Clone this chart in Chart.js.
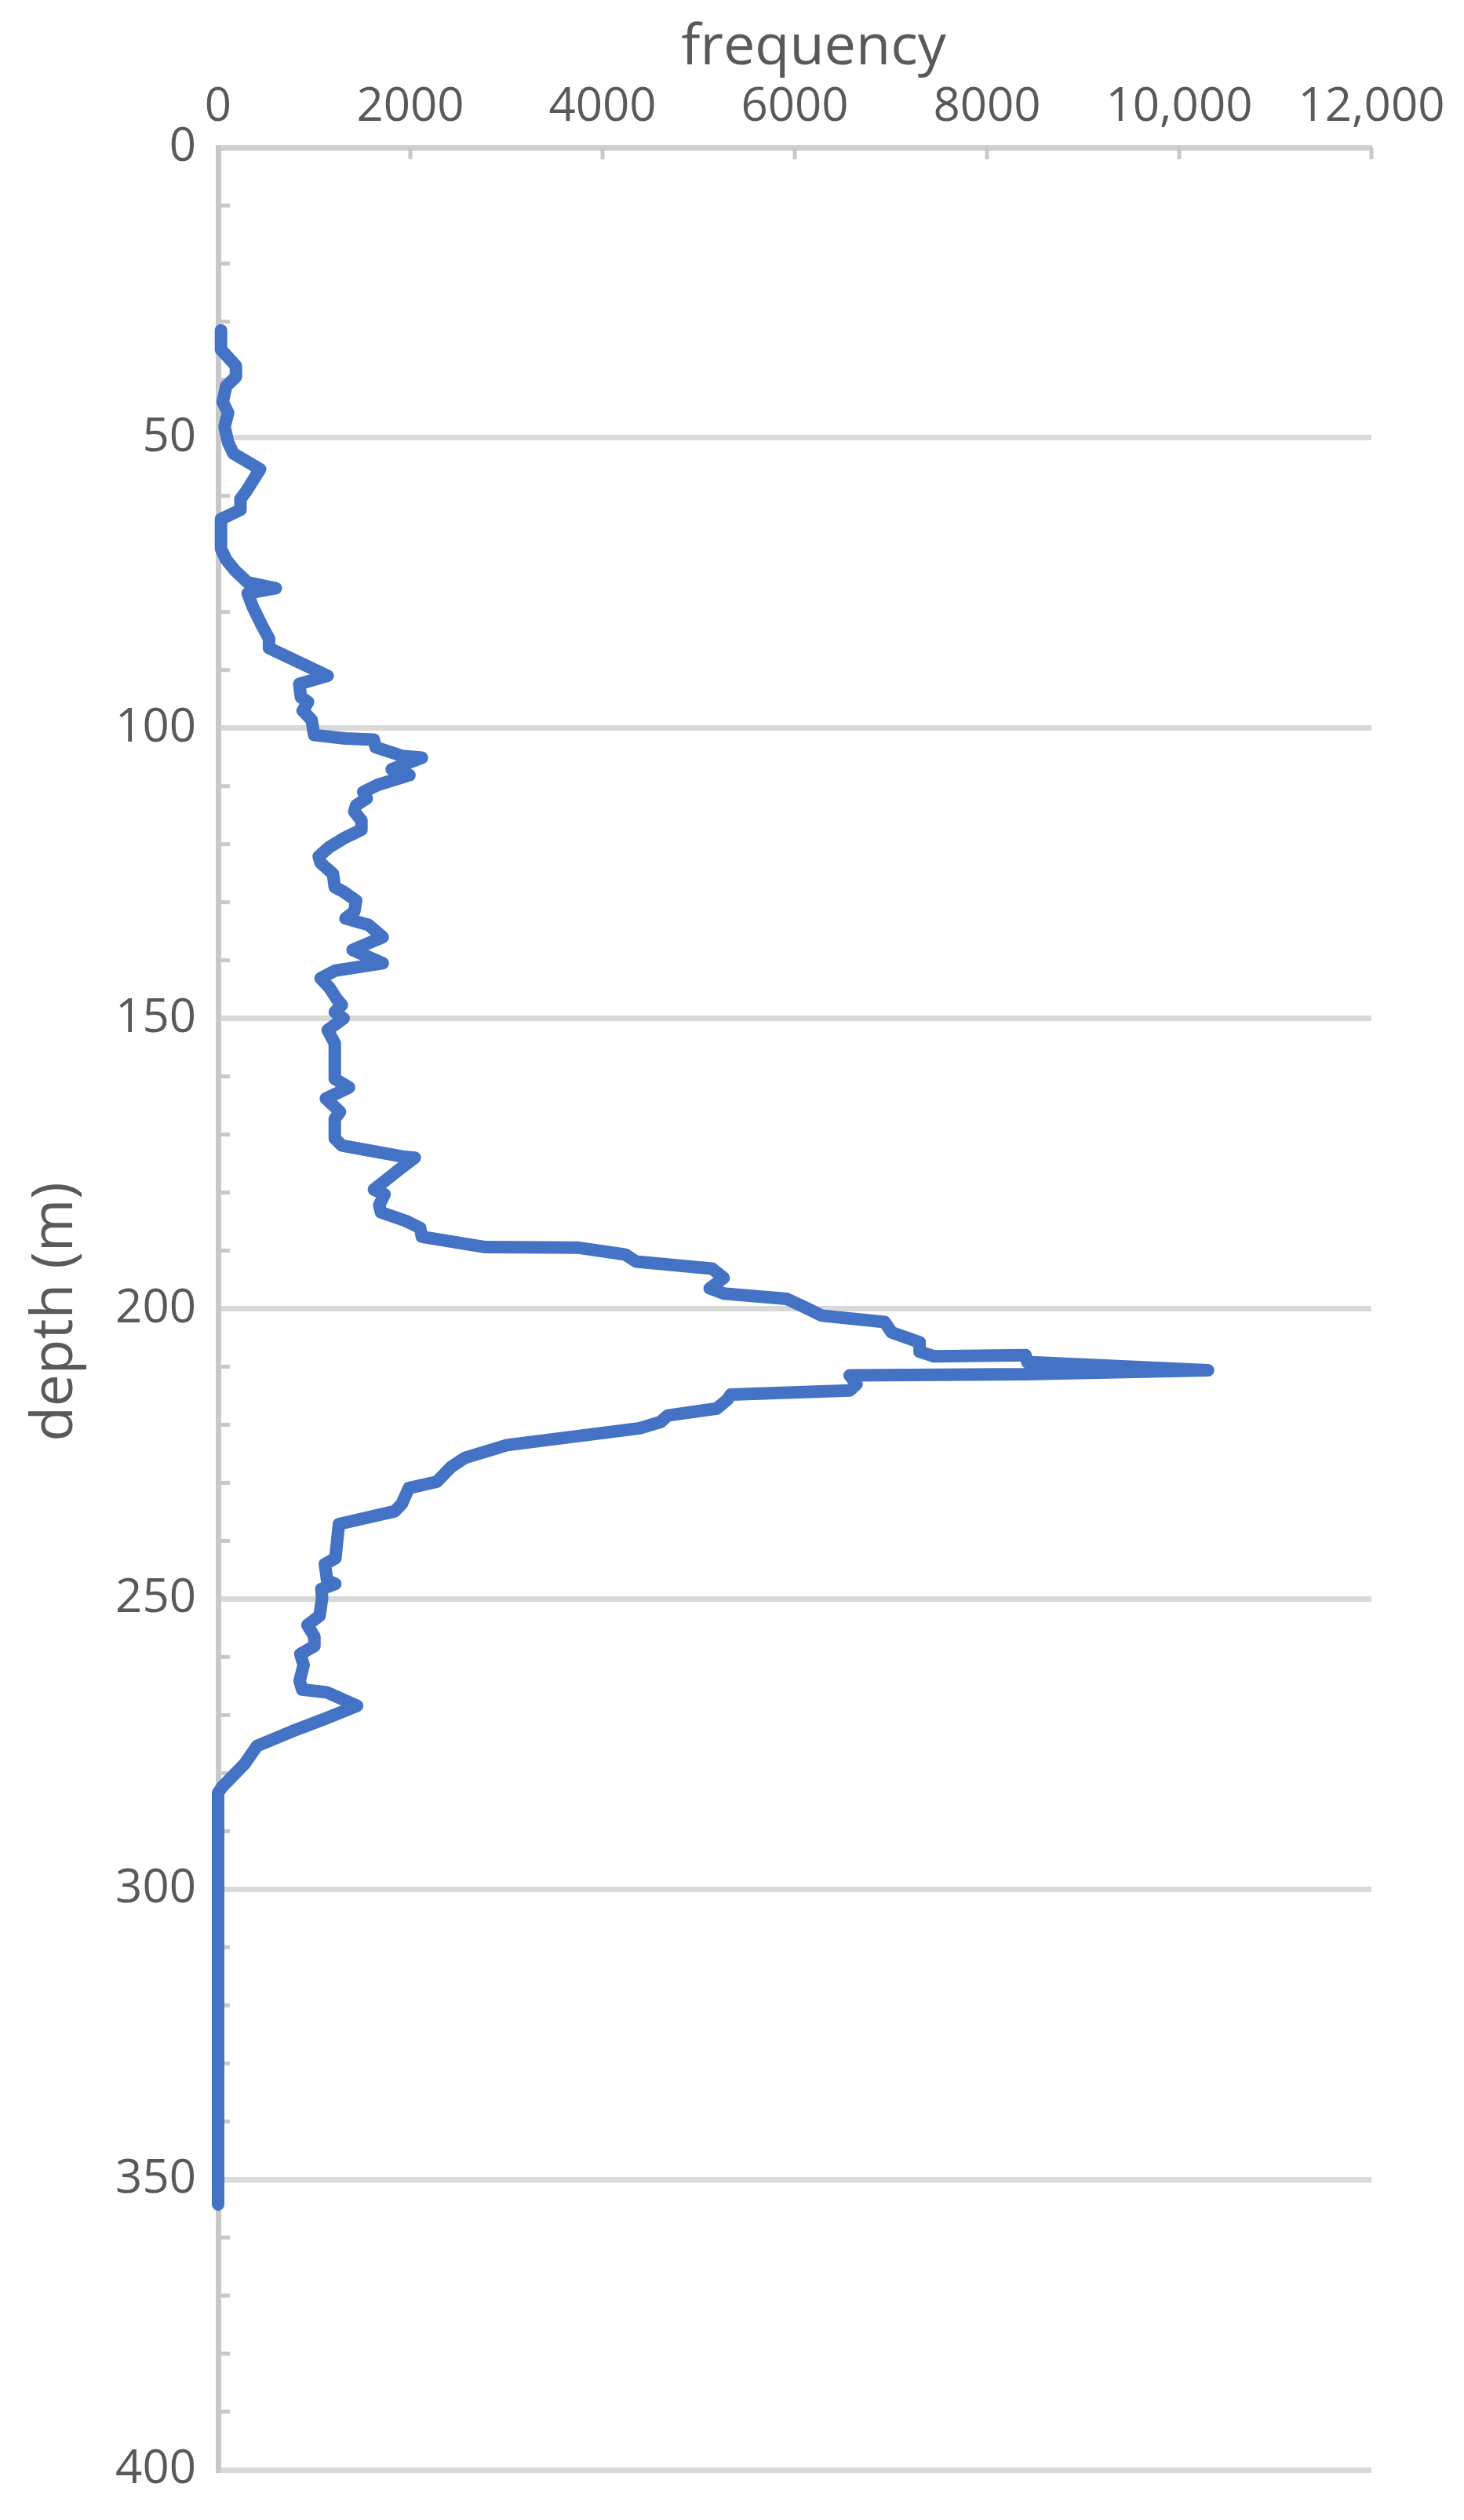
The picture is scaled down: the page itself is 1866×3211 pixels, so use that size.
<!DOCTYPE html>
<html><head><meta charset="utf-8">
<script src="https://cdn.jsdelivr.net/npm/chart.js@4/dist/chart.umd.min.js"></script>
<style>html,body{margin:0;padding:0;background:#fff;}#wrap{width:1866px;height:3211px;}</style>
</head><body><div id="wrap"><canvas id="c" width="1866" height="3211"></canvas></div>
<script>
// depth (m) of each sample, top to bottom
const depthM = [
  31.5, 34.8, 37.6, 39.5, 41.1, 43.8, 45.7, 48.1, 50.8, 52.7,
  55.4, 59.3, 60.5, 62.4, 64.0, 69.1, 71.0, 72.9, 74.9, 75.9,
  76.8, 79.2, 82.3, 84.6, 86.2, 91.0, 92.4, 94.7, 95.5, 97.0,
  98.6, 100.5, 101.2, 101.8, 102.0, 103.3, 104.8, 105.1, 107.1, 108.1,
  109.8, 111.0, 112.1, 113.3, 114.4, 115.9, 117.5, 119.0, 120.5, 122.1,
  123.2, 125.1, 127.4, 128.2, 129.7, 131.6, 132.8, 133.9, 136.0, 138.2,
  140.5, 141.8, 143.1, 144.7, 146.6, 147.7, 148.9, 150.0, 152.0, 154.3,
  160.4, 161.9, 163.8, 166.1, 167.3, 170.7, 171.9, 173.8, 174.0, 176.1,
  179.5, 180.3, 182.2, 183.4, 184.9, 186.1, 187.6, 189.4, 189.5, 190.7,
  191.9, 193.1, 194.7, 196.5, 197.4, 198.3, 200.0, 201.2, 202.3, 204.1,
  205.8, 207.4, 208.2, 208.0, 209.2, 210.6, 211.3, 211.5, 213.0, 214.1,
  214.8, 215.7, 217.2, 218.4, 219.5, 220.6, 223.5, 225.7, 227.3, 229.8,
  230.9, 233.6, 234.9, 237.1, 243.0, 244.0, 246.8, 247.4, 248.3, 249.8,
  252.9, 254.5, 256.5, 258.1, 259.5, 261.4, 264.1, 265.6, 266.1, 268.4,
  270.5, 272.8, 275.3, 278.4, 282.4, 283.4, 354.3
];
// frequency at each depth
const frequency = [
  30, 30, 185, 185, 85, 48, 104, 67, 104, 159,
  437, 289, 233, 233, 30, 30, 85, 178, 307, 600,
  307, 363, 455, 530, 530, 1140, 844, 862, 936, 880,
  973, 992, 1000, 1325, 1620, 1639, 1917, 2120, 1806, 1991,
  1658, 1510, 1547, 1436, 1417, 1491, 1491, 1306, 1158, 1047,
  1066, 1195, 1214, 1306, 1436, 1417, 1325, 1565, 1713, 1399,
  1713, 1214, 1066, 1158, 1232, 1288, 1214, 1306, 1140, 1214,
  1214, 1362, 1121, 1269, 1214, 1214, 1288, 1917, 2046, 1880,
  1621, 1732, 1676, 1695, 1954, 2102, 2120, 2780, 3750, 4240,
  4350, 5140, 5261, 5115, 5261, 5916, 6134, 6280, 6935, 7008,
  7299, 7299, 7445, 8400, 8420, 10300, 8400, 6571, 6644, 6571,
  5334, 5297, 5188, 4678, 4606, 4387, 3004, 2567, 2422, 2276,
  1985, 1912, 1839, 1257, 1220, 1111, 1134, 1220, 1075, 1082,
  1056, 929, 1002, 1002, 856, 890, 848, 874, 1134, 1446,
  1134, 770, 406, 276, 42, 0, 0
];
const xTickValues = [0, 2000, 4000, 6000, 8000, 10000, 12000];
const xTickLabels = ['0', '2000', '4000', '6000', '8000', '10,000', '12,000'];
const yTickValues = [0, 50, 100, 150, 200, 250, 300, 350, 400];
const yMinorStep = 10;
const xTitle = 'frequency';
const yTitle = 'depth (m)';

const points = depthM.map((d, i) => ({x: frequency[i], y: d}));
const FONT = "'Open Sans', sans-serif";

const tickMarks = {
  id: 'tickMarks',
  beforeDatasetsDraw(chart) {
    const {ctx, scales: {x, y}} = chart;
    ctx.save();
    ctx.strokeStyle = '#c8c8c8';
    ctx.lineWidth = 5;
    const x0 = x.getPixelForValue(0);
    for (let v = yMinorStep; v < 400; v += yMinorStep) {
      if (v % 50 === 0) continue;
      const py = y.getPixelForValue(v);
      ctx.beginPath(); ctx.moveTo(x0, py); ctx.lineTo(x0 + 15, py); ctx.stroke();
    }
    const y0 = y.getPixelForValue(0);
    xTickValues.forEach(v => {
      if (v === 0) return;
      const px = x.getPixelForValue(v);
      ctx.beginPath(); ctx.moveTo(px, y0); ctx.lineTo(px, y0 + 15); ctx.stroke();
    });
    ctx.restore();
  },
  afterDraw(chart) {
    const {ctx, chartArea} = chart;
    ctx.save();
    ctx.fillStyle = '#595959';
    ctx.font = '72px ' + FONT;
    ctx.textAlign = 'center';
    ctx.textBaseline = 'alphabetic';
    ctx.fillText(xTitle, (chartArea.left + chartArea.right) / 2 + 24, 82);
    ctx.translate(92, (chartArea.top + chartArea.bottom) / 2 + 4);
    ctx.rotate(-Math.PI / 2);
    ctx.font = '73px ' + FONT;
    ctx.fillText(yTitle, 0, 0);
    ctx.restore();
  }
};

new Chart(document.getElementById('c'), {
  type: 'scatter',
  data: {
    datasets: [{
      data: points,
      showLine: true,
      borderColor: '#4472C4',
      backgroundColor: '#4472C4',
      borderWidth: 16,
      pointRadius: 0,
      borderJoinStyle: 'round',
      borderCapStyle: 'round',
      tension: 0,
      clip: false
    }]
  },
  plugins: [tickMarks],
  options: {
    responsive: false,
    animation: false,
    events: [],
    layout: {padding: {left: 0, top: 0, right: 118, bottom: 40}},
    plugins: {legend: {display: false}, tooltip: {enabled: false}, title: {display: false}},
    scales: {
      x: {
        type: 'linear', position: 'top', min: 0, max: 12000,
        afterBuildTicks(scale) { scale.ticks = xTickValues.map(v => ({value: v})); },
        afterFit(scale) { scale.height = 188; },
        ticks: {
          padding: 15,
          font: {family: FONT, size: 60},
          color: '#595959',
          maxRotation: 0, autoSkip: false,
          callback: (v) => xTickLabels[xTickValues.indexOf(v)]
        },
        grid: {drawOnChartArea: false, drawTicks: false},
        border: {display: true, color: '#d0d0d0', width: 7},
        title: {display: false}
      },
      y: {
        type: 'linear', reverse: true, min: 0, max: 400,
        afterBuildTicks(scale) { scale.ticks = yTickValues.map(v => ({value: v})); },
        afterFit(scale) { scale.width = 278; },
        ticks: {
          padding: 28,
          font: {family: FONT, size: 60},
          color: '#595959', autoSkip: false
        },
        grid: {color: '#d9d9d9', lineWidth: 7, drawTicks: false},
        border: {display: true, color: '#c8c8c8', width: 7},
        title: {display: false}
      }
    }
  }
});
</script></body></html>
